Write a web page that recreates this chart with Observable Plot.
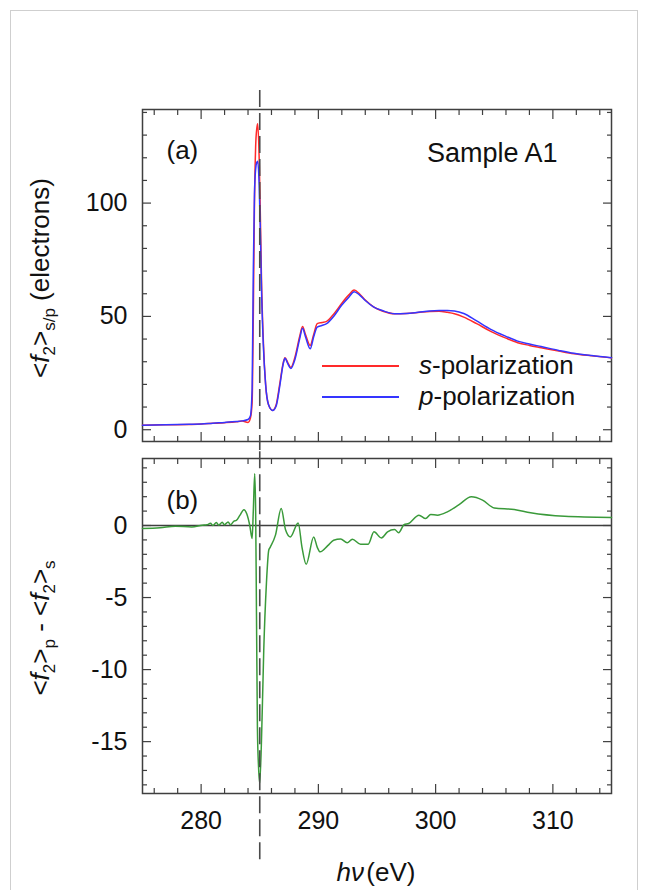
<!DOCTYPE html>
<html>
<head>
<meta charset="utf-8">
<script src="https://cdn.jsdelivr.net/npm/d3@7"></script>
<script src="https://cdn.jsdelivr.net/npm/@observablehq/plot@0.6"></script>
<style>
  body { margin: 0; background: #fff; font-family: "Liberation Sans", Arial, sans-serif; }
  #wrap { position: relative; width: 649px; height: 890px; overflow: hidden; background: #fff; }
  .ov { position: absolute; white-space: nowrap; color: #111; font-size: 26px; line-height: 26px; }
  .ov sub { font-size: 17px; vertical-align: -6px; line-height: 0; }
  .leg { position: absolute; height: 1.6px; }
  #border { position: absolute; left: 10px; top: 10px; width: 626px; height: 900px; border: 1px solid #cfcfcf; pointer-events: none; }
</style>
</head>
<body>
<div id="wrap">
  <div id="top" style="position:absolute;left:0;top:0"></div>
  <div id="bot" style="position:absolute;left:0;top:450px"></div>
  <div class="leg" style="left:322px;top:365px;width:77px;background:#ff2a2a"></div>
  <div class="leg" style="left:322px;top:396px;width:77px;background:#3535ff"></div>
  <div class="ov" style="left:419px;top:352px"><i>s</i>-polarization</div>
  <div class="ov" style="left:419px;top:383px"><i>p</i>-polarization</div>
  <div class="ov" style="left:40px;top:278px;transform:translate(-50%,-50%) rotate(-90deg)">&lt;<i>f</i><sub>2</sub>&gt;<sub>s/p</sub> (electrons)</div>
  <div class="ov" style="left:40px;top:628px;transform:translate(-50%,-50%) rotate(-90deg)">&lt;<i>f</i><sub>2</sub>&gt;<sub>p</sub> - &lt;<i>f</i><sub>2</sub>&gt;<sub>s</sub></div>
  <div class="ov" style="left:376px;top:859px;transform:translateX(-50%)"><i>h</i><i>ν</i>&#8202;(eV)</div>
  <div id="border"></div>
</div>
<script>
// ---- data ----
const energyA = [275, 277, 279, 280, 281, 282, 283, 283.5, 284.0, 284.2, 284.35, 284.45, 284.55, 284.65, 284.75, 284.83, 284.95, 285.05, 285.15, 285.3, 285.5, 285.75, 286.1, 286.4, 286.7, 287.0, 287.15, 287.4, 287.65, 288.0, 288.4, 288.65, 288.9, 289.3, 289.6, 289.9, 290.3, 290.7, 291.3, 292.0, 292.6, 293.05, 293.5, 294.0, 294.7, 295.5, 296.5, 297.5, 298.5, 299.5, 300.3, 301.0, 301.6, 302.4, 303.5, 304.7, 306.0, 307.0, 308.0, 309.0, 310.5, 311.8, 313.3, 315];
const sPol = [2.0, 2.2, 2.3, 2.5, 2.8, 3.1, 3.5, 3.8, 3.2, 5, 12, 50, 100, 125, 133, 135, 120, 95, 66, 40, 20, 11, 8.5, 11, 20, 29.5, 31.8, 29.5, 27.5, 32, 41, 45.5, 42, 37.2, 42, 46.8, 47.3, 47.8, 51, 55.8, 59.5, 61.6, 60.0, 57.2, 54.2, 52.3, 51.2, 51.3, 51.7, 52.2, 52.3, 51.8, 51.2, 49.7, 46.8, 43.4, 40.4, 38.4, 37.2, 36.2, 34.7, 33.5, 32.6, 31.7];
const pPol = [2.0, 2.2, 2.4, 2.5, 2.9, 3.2, 3.6, 3.9, 4.5, 6, 18, 70, 104, 115, 118, 118.5, 108, 88, 62, 38, 20, 11, 8.5, 10.5, 19, 29, 31.5, 29, 27.0, 31, 40, 44.8, 41, 35.7, 41, 45.3, 46, 46.8, 50, 55, 58.5, 60.9, 59.5, 57, 54.2, 52.5, 51.2, 51.3, 51.8, 52.4, 52.6, 52.6, 52.4, 51.3, 48.0, 44.3, 41.2, 39.1, 37.8, 36.7, 35.0, 33.7, 32.7, 31.8];

const energyB = [275, 276.5, 277.8, 279.2, 280.1, 280.5, 280.8, 281.0, 281.3, 281.5, 281.8, 282.0, 282.3, 282.5, 282.8, 283.0, 283.3, 283.65, 283.9, 284.15, 284.35, 284.45, 284.57, 284.65, 284.72, 284.8, 284.9, 285.0, 285.2, 285.34, 285.57, 285.77, 285.9, 286.34, 286.83, 287.2, 287.6, 288.28, 288.6, 288.96, 289.6, 289.9, 290.15, 290.8, 291.3, 291.9, 292.46, 292.9, 293.6, 294.25, 294.74, 295.37, 295.9, 296.5, 296.85, 297.3, 297.7, 298.58, 299.15, 299.58, 300.15, 301.0, 302.0, 303.05, 304.0, 305.0, 306.7, 308.1, 311.0, 315.0];
const diffB = [-0.2, -0.15, -0.05, -0.1, 0.02, 0.05, 0.15, 0.0, 0.2, 0.02, 0.22, 0.05, 0.25, 0.05, 0.3, 0.35, 0.7, 1.1, 0.8, 0.0, -0.9, 1.0, 3.6, 1.0, -6, -14, -16.8, -17.9, -13.3, -8.7, -4.0, -1.7, -1.5, -0.67, 1.18, -0.3, -0.79, 0.18, -1.5, -2.69, -0.79, -1.5, -1.83, -1.4, -1.02, -0.93, -1.2, -0.95, -1.3, -1.3, -0.44, -0.86, -0.44, -0.28, -0.5, 0.05, 0.14, 0.72, 0.48, 0.76, 0.72, 0.95, 1.45, 1.99, 1.76, 1.22, 1.11, 0.88, 0.64, 0.56];

const xMajor = [280, 290, 300, 310];
const xMinor = [276, 278, 282, 284, 286, 288, 292, 294, 296, 298, 302, 304, 306, 308, 312, 314];
const yMajorA = [0, 50, 100];
const yMinorA = [10, 20, 30, 40, 60, 70, 80, 90, 110, 120, 130, 140];
const yMajorB = [-15, -10, -5, 0];
const yMinorB = [-18, -17, -16, -14, -13, -12, -11, -9, -8, -7, -6, -4, -3, -2, -1, 1, 2, 3, 4];
const edgeEnergy = [285];

const rowsA = energyA.map((e, i) => ({e, s: sPol[i], p: pPol[i]}));
const rowsB = energyB.map((e, i) => ({e, d: diffB[i]}));

const ax = "#3f3f3f";
const font = {fontFamily: "'Liberation Sans', Arial, sans-serif", fontSize: "25px", color: "#111", background: "white", overflow: "hidden"};
const fmt = d => String(d);

function tickMarks(yMajor, yMinor) {
  return [
    Plot.axisX({anchor: "bottom", ticks: xMajor, tickSize: -9, fill: "none", stroke: ax, strokeWidth: 1.2}),
    Plot.axisX({anchor: "bottom", ticks: xMinor, tickSize: -5, fill: "none", stroke: ax, strokeWidth: 1.2}),
    Plot.axisX({anchor: "top", ticks: xMajor, tickSize: -9, fill: "none", stroke: ax, strokeWidth: 1.2}),
    Plot.axisX({anchor: "top", ticks: xMinor, tickSize: -5, fill: "none", stroke: ax, strokeWidth: 1.2}),
    Plot.axisY({anchor: "left", ticks: yMajor, tickSize: -9, fill: "none", stroke: ax, strokeWidth: 1.2}),
    Plot.axisY({anchor: "left", ticks: yMinor, tickSize: -5, fill: "none", stroke: ax, strokeWidth: 1.2}),
    Plot.axisY({anchor: "right", ticks: yMajor, tickSize: -9, fill: "none", stroke: ax, strokeWidth: 1.2}),
    Plot.axisY({anchor: "right", ticks: yMinor, tickSize: -5, fill: "none", stroke: ax, strokeWidth: 1.2}),
    Plot.axisY({anchor: "left", ticks: yMajor, tickSize: 0, tickPadding: 15, tickFormat: fmt, fontSize: 25}),
    Plot.frame({stroke: ax, strokeWidth: 1.5})
  ];
}

const topChart = Plot.plot({
  width: 649, height: 450,
  marginTop: 109, marginBottom: 9, marginLeft: 142, marginRight: 38,
  style: font,
  x: {domain: [275, 315], label: null, axis: null},
  y: {domain: [-5.2, 141.3], label: null, axis: null},
  marks: [
    ...tickMarks(yMajorA, yMinorA),
    Plot.line(rowsA, {x: "e", y: "s", stroke: "#ff2a2a", strokeWidth: 1.5, curve: "monotone-x"}),
    Plot.line(rowsA, {x: "e", y: "p", stroke: "#3535ff", strokeWidth: 1.5, curve: "monotone-x"}),
    Plot.ruleX(edgeEnergy, {x: d => d, y1: -10, y2: 152, stroke: "#4a4a4a", strokeWidth: 1.6, strokeDasharray: "17,6"}),
    Plot.text(["(a)"], {frameAnchor: "top-left", dx: 24, dy: 41, textAnchor: "start", lineAnchor: "middle", fontSize: 26, fill: "#111"}),
    Plot.text(["Sample A1"], {frameAnchor: "top-right", dx: -54, dy: 44, textAnchor: "end", lineAnchor: "middle", fontSize: 27, fill: "#111"})
  ]
});
document.getElementById("top").appendChild(topChart);

const botChart = Plot.plot({
  width: 649, height: 440,
  marginTop: 8, marginBottom: 97, marginLeft: 142, marginRight: 38,
  style: font,
  x: {domain: [275, 315], label: null, axis: null},
  y: {domain: [-18.6, 4.65], label: null, axis: null},
  marks: [
    ...tickMarks(yMajorB, yMinorB),
    Plot.axisX({anchor: "bottom", ticks: xMajor, tickSize: 0, tickPadding: 18, tickFormat: fmt, fontSize: 25}),
    Plot.ruleY([0], {stroke: ax, strokeWidth: 1.5}),
    Plot.line(rowsB, {x: "e", y: "d", stroke: "#3a9a3a", strokeWidth: 1.5, curve: "monotone-x"}),
    Plot.ruleX(edgeEnergy, {x: d => d, y1: -23.2, y2: 6, stroke: "#4a4a4a", strokeWidth: 1.6, strokeDasharray: "17,6"}),
    Plot.text(["(b)"], {frameAnchor: "top-left", dx: 24, dy: 42, textAnchor: "start", lineAnchor: "middle", fontSize: 26, fill: "#111"})
  ]
});
document.getElementById("bot").appendChild(botChart);
</script>
</body>
</html>
